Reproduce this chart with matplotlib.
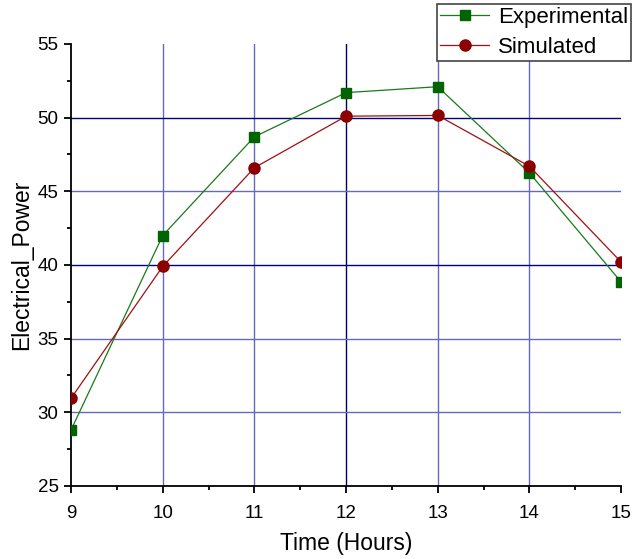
import matplotlib
matplotlib.use('Agg')
from matplotlib import pyplot as plt
from matplotlib.ticker import MultipleLocator

plt.rcParams['font.family'] = ['Liberation Sans', 'DejaVu Sans']

hours = [9, 10, 11, 12, 13, 14, 15]
experimental = [28.8, 42.0, 48.7, 51.7, 52.1, 46.25, 38.85]
simulated = [30.95, 39.9, 46.6, 50.1, 50.15, 46.7, 40.2]

fig = plt.figure(figsize=(6.33, 5.59), dpi=100)
ax = fig.add_axes([0.1122, 0.1306, 0.8690, 0.7907])

ax.plot(hours, experimental, color='#1a7a1a', lw=0.9, marker='s', ms=7,
        mfc='#006400', mec='#006400', label='Experimental', zorder=3)
ax.plot(hours, simulated, color='#a01010', lw=0.9, marker='o', ms=8,
        mfc='#8b0000', mec='#8b0000', label='Simulated', zorder=3)

ax.set_xlim(9, 15)
ax.set_ylim(25, 55)
ax.xaxis.set_major_locator(MultipleLocator(1))
ax.xaxis.set_minor_locator(MultipleLocator(0.5))
ax.yaxis.set_major_locator(MultipleLocator(5))
ax.yaxis.set_minor_locator(MultipleLocator(2.5))

ax.grid(True, which='major', color='#6868bc', lw=1.0)
# some grid lines look darker in the original, none at the limits
for line, v in zip(ax.get_ygridlines(), ax.get_yticks()):
    if v in (40, 50):
        line.set_color('#000080')
    if v in (25, 55):
        line.set_visible(False)
for line, v in zip(ax.get_xgridlines(), ax.get_xticks()):
    if v == 12:
        line.set_color('#000060')
    if v in (9, 15):
        line.set_visible(False)

for s in ['top', 'right']:
    ax.spines[s].set_visible(False)
for s in ['left', 'bottom']:
    ax.spines[s].set_linewidth(1.3)
ax.tick_params(which='major', direction='out', length=5, width=1.3, labelsize=13.5)
ax.tick_params(which='minor', direction='out', length=3, width=1.3)
ax.tick_params(axis='x', which='major', pad=9)
ax.tick_params(axis='y', which='major', pad=4)

ax.set_xlabel('Time (Hours)', fontsize=16.5, labelpad=7)
ax.set_ylabel('Electrical_Power', fontsize=16.5, labelpad=3)

leg = ax.legend(loc='upper left', bbox_to_anchor=(0.690, 0.993),
                bbox_transform=fig.transFigure, borderaxespad=0,
                fancybox=False, fontsize=16, handlelength=2.2,
                labelspacing=0.4, borderpad=0.15, handletextpad=0.4)
leg.get_frame().set_edgecolor('#444444')
leg.get_frame().set_linewidth(1.2)
leg.get_frame().set_alpha(1)

plt.savefig('out.png', dpi=100)
